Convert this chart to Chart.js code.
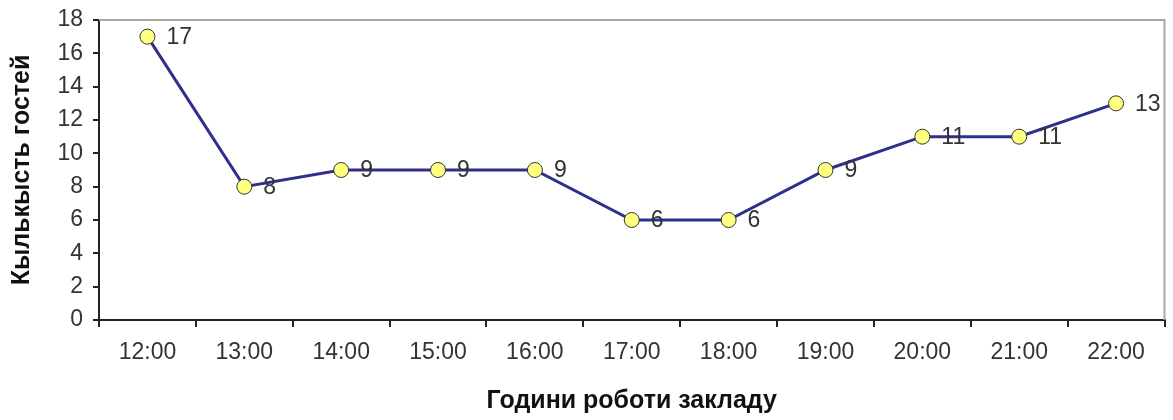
<!DOCTYPE html>
<html>
<head>
<meta charset="utf-8">
<script src="https://cdn.jsdelivr.net/npm/chart.js@4/dist/chart.umd.min.js"></script>
<style>
  html, body { margin: 0; padding: 0; background: #fff; }
  #wrap { width: 1173px; height: 420px; }
</style>
</head>
<body>
<div id="wrap"><canvas id="chart" width="1173" height="420"></canvas></div>
<script>
const hours = ['12:00', '13:00', '14:00', '15:00', '16:00', '17:00', '18:00', '19:00', '20:00', '21:00', '22:00'];
const guests = [17, 8, 9, 9, 9, 6, 6, 9, 11, 11, 13];
const yTitle = 'Кылькысть гостей';
const xTitle = 'Години роботи закладу';

const fontFamily = '"Liberation Sans", Arial, sans-serif';

// value labels to the right of each point
const pointLabels = {
  id: 'pointLabels',
  afterDatasetsDraw(chart) {
    const ctx = chart.ctx;
    const meta = chart.getDatasetMeta(0);
    ctx.save();
    ctx.font = '23px ' + fontFamily;
    ctx.fillStyle = '#333';
    ctx.textAlign = 'left';
    ctx.textBaseline = 'middle';
    meta.data.forEach((pt, i) => {
      ctx.fillText(guests[i], pt.x + 19, pt.y + 1);
    });
    ctx.restore();
  }
};

// gray top + right frame of the plot area
const frame = {
  id: 'frame',
  beforeDatasetsDraw(chart) {
    const { ctx, chartArea: a } = chart;
    ctx.save();
    ctx.strokeStyle = '#a8a8a8';
    ctx.lineWidth = 2;
    ctx.beginPath();
    ctx.moveTo(a.left, a.top);
    ctx.lineTo(a.right, a.top);
    ctx.lineTo(a.right, a.bottom);
    ctx.stroke();
    ctx.restore();
  }
};

const ctx = document.getElementById('chart').getContext('2d');
new Chart(ctx, {
  type: 'line',
  data: {
    labels: hours,
    datasets: [{
      data: guests,
      borderColor: '#2f2f8c',
      borderWidth: 3,
      pointBackgroundColor: '#ffff80',
      pointBorderColor: '#333',
      pointBorderWidth: 1,
      pointRadius: 7.5,
      tension: 0
    }]
  },
  options: {
    responsive: false,
    animation: false,
    layout: { padding: { top: 20, right: 8, bottom: 0, left: 0 } },
    plugins: {
      legend: { display: false },
      tooltip: { enabled: false }
    },
    scales: {
      x: {
        offset: true,
        grid: { offset: true, drawOnChartArea: false, drawTicks: true, tickLength: 7, color: '#222', lineWidth: 2 },
        border: { color: '#222', width: 2 },
        ticks: {
          color: '#333',
          padding: 12,
          maxRotation: 0,
          font: { family: fontFamily, size: 23 }
        },
        title: {
          display: true,
          text: xTitle,
          color: '#111',
          padding: { top: 4, bottom: 4 },
          font: { family: fontFamily, size: 25, weight: 'bold' }
        },
        afterFit(scale) { scale.height = 100; }
      },
      y: {
        min: 0,
        max: 18,
        ticks: {
          stepSize: 2,
          color: '#333',
          padding: 10,
          font: { family: fontFamily, size: 23 }
        },
        grid: { drawOnChartArea: false, drawTicks: true, tickLength: 6, color: '#222', lineWidth: 2 },
        border: { color: '#222', width: 2 },
        title: {
          display: true,
          text: yTitle,
          color: '#111',
          padding: { top: 7, bottom: 4 },
          font: { family: fontFamily, size: 25, weight: 'bold' }
        },
        afterFit(scale) {
          scale.width = 99;
          scale.paddingTop = 0;
          scale.paddingBottom = 0;
        }
      }
    }
  },
  plugins: [frame, pointLabels]
});
</script>
</body>
</html>
